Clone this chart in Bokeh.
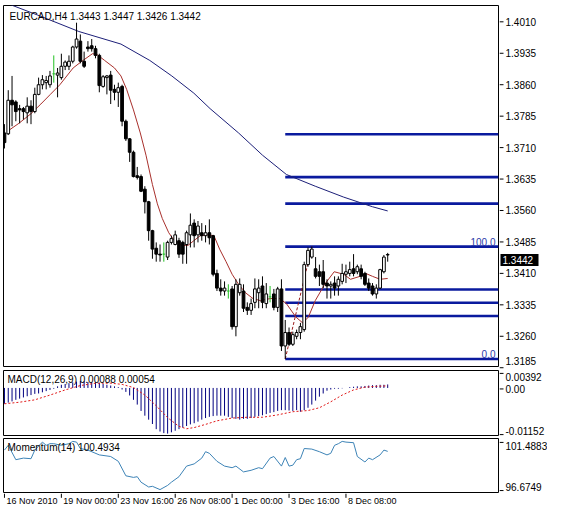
from bokeh.plotting import figure
from bokeh.layouts import column, row
from bokeh.models import Range1d, Label, ColumnDataSource
from bokeh.embed import file_html
from bokeh.resources import INLINE
from bokeh.core.properties import value

# ---------------- data ----------------
chart_title = "EURCAD,H4  1.3443 1.3447 1.3426 1.3442"

open_ = [
    1.3733, 1.3731, 1.3811, 1.3807, 1.3791, 1.3791, 1.3781, 1.3797, 1.3784, 1.3825,
    1.3848, 1.3853, 1.3848, 1.3874, 1.3871, 1.3865, 1.3892, 1.3892, 1.3904, 1.3938,
    1.3952, 1.3904, 1.3938, 1.3941, 1.3934, 1.3918, 1.3844, 1.3865, 1.3871, 1.3837,
    1.3830, 1.3844, 1.3761, 1.3719, 1.3687, 1.3631, 1.3629, 1.3599, 1.3569, 1.3500,
    1.3458, 1.3444, 1.3444, 1.3437, 1.3472, 1.3467, 1.3476, 1.3472, 1.3467, 1.3490,
    1.3518, 1.3490, 1.3495, 1.3488, 1.3495, 1.3488, 1.3398, 1.3363, 1.3356, 1.3356,
    1.3361, 1.3271, 1.3352, 1.3356, 1.3317, 1.3310, 1.3329, 1.3352, 1.3368, 1.3326,
    1.3342, 1.3349, 1.3317, 1.3361, 1.3225, 1.3257, 1.3229, 1.3248, 1.3257, 1.3264,
    1.3419, 1.3437, 1.3409, 1.3402, 1.3402, 1.3375, 1.3368, 1.3375, 1.3368, 1.3379,
    1.3396, 1.3398, 1.3409, 1.3402, 1.3409, 1.3398, 1.3375, 1.3368, 1.3349, 1.3363,
    1.3402, 1.3443]
high = [
    1.3754, 1.3835, 1.3869, 1.3811, 1.3800, 1.3795, 1.3818, 1.3811, 1.3841, 1.3865,
    1.3871, 1.3869, 1.3881, 1.3918, 1.3888, 1.3922, 1.3906, 1.3918, 1.3941, 1.3996,
    1.3968, 1.3927, 1.3952, 1.3957, 1.3941, 1.3922, 1.3871, 1.3871, 1.3881, 1.3848,
    1.3853, 1.3848, 1.3765, 1.3721, 1.3691, 1.3652, 1.3634, 1.3606, 1.3571, 1.3502,
    1.3472, 1.3467, 1.3472, 1.3476, 1.3488, 1.3500, 1.3483, 1.3476, 1.3500, 1.3541,
    1.3527, 1.3523, 1.3518, 1.3513, 1.3527, 1.3490, 1.3407, 1.3384, 1.3379, 1.3372,
    1.3368, 1.3384, 1.3386, 1.3372, 1.3329, 1.3338, 1.3386, 1.3384, 1.3391, 1.3375,
    1.3368, 1.3361, 1.3366, 1.3384, 1.3287, 1.3269, 1.3259, 1.3264, 1.3280, 1.3426,
    1.3460, 1.3462, 1.3437, 1.3419, 1.3430, 1.3384, 1.3379, 1.3391, 1.3391, 1.3421,
    1.3419, 1.3426, 1.3444, 1.3419, 1.3419, 1.3402, 1.3386, 1.3375, 1.3372, 1.3409,
    1.3442, 1.3447]
low = [
    1.3696, 1.3728, 1.3749, 1.3761, 1.3756, 1.3765, 1.3756, 1.3754, 1.3780, 1.3823,
    1.3837, 1.3837, 1.3841, 1.3853, 1.3818, 1.3860, 1.3883, 1.3883, 1.3899, 1.3934,
    1.3899, 1.3888, 1.3927, 1.3927, 1.3911, 1.3830, 1.3841, 1.3825, 1.3802, 1.3811,
    1.3795, 1.3749, 1.3714, 1.3664, 1.3627, 1.3622, 1.3592, 1.3541, 1.3476, 1.3433,
    1.3426, 1.3426, 1.3426, 1.3430, 1.3467, 1.3465, 1.3435, 1.3421, 1.3421, 1.3460,
    1.3460, 1.3472, 1.3476, 1.3472, 1.3467, 1.3391, 1.3356, 1.3345, 1.3345, 1.3338,
    1.3264, 1.3248, 1.3345, 1.3306, 1.3299, 1.3299, 1.3315, 1.3315, 1.3315, 1.3315,
    1.3329, 1.3310, 1.3306, 1.3213, 1.3194, 1.3225, 1.3225, 1.3241, 1.3241, 1.3259,
    1.3414, 1.3433, 1.3386, 1.3368, 1.3363, 1.3338, 1.3338, 1.3345, 1.3345, 1.3372,
    1.3375, 1.3391, 1.3391, 1.3396, 1.3384, 1.3368, 1.3356, 1.3345, 1.3338, 1.3361,
    1.3398, 1.3426]
close = [
    1.3710, 1.3811, 1.3800, 1.3784, 1.3788, 1.3784, 1.3797, 1.3784, 1.3825, 1.3848,
    1.3860, 1.3858, 1.3869, 1.3874, 1.3876, 1.3892, 1.3902, 1.3904, 1.3938, 1.3957,
    1.3904, 1.3892, 1.3934, 1.3934, 1.3918, 1.3846, 1.3867, 1.3869, 1.3835, 1.3830,
    1.3841, 1.3761, 1.3719, 1.3687, 1.3629, 1.3627, 1.3594, 1.3569, 1.3500, 1.3456,
    1.3444, 1.3442, 1.3444, 1.3472, 1.3481, 1.3490, 1.3444, 1.3444, 1.3495, 1.3513,
    1.3488, 1.3511, 1.3488, 1.3495, 1.3483, 1.3396, 1.3363, 1.3356, 1.3363, 1.3356,
    1.3271, 1.3372, 1.3372, 1.3315, 1.3310, 1.3326, 1.3361, 1.3363, 1.3329, 1.3349,
    1.3342, 1.3317, 1.3361, 1.3225, 1.3257, 1.3229, 1.3252, 1.3257, 1.3271, 1.3419,
    1.3453, 1.3456, 1.3391, 1.3391, 1.3372, 1.3368, 1.3372, 1.3363, 1.3384, 1.3398,
    1.3402, 1.3407, 1.3398, 1.3414, 1.3391, 1.3372, 1.3363, 1.3349, 1.3363, 1.3407,
    1.3437, 1.3442]

ma_fast_x = [0.8, 3.8, 7.0, 9.6, 12.1, 14.6, 18.1, 20.7, 23.2, 24.4, 26.4, 29.0, 30.7,
             32.2, 34.0, 35.8, 37.3, 39.0, 40.3, 41.6, 43.3, 44.8, 46.6, 48.4, 49.9,
             51.6, 53.7, 55.2, 56.7, 58.4, 60.0, 61.7, 63.5, 65.5, 67.5, 70.0, 72.5,
             74.3, 76.8, 78.6, 80.1, 81.9, 84.4, 86.9, 89.4, 91.2, 93.7, 95.2, 97.0,
             99.0, 101.0]
ma_fast_y = [1.3737, 1.3756, 1.3779, 1.3802, 1.3825, 1.3848, 1.3888, 1.3906, 1.3922,
             1.3920, 1.3906, 1.3888, 1.3869, 1.3837, 1.3788, 1.3733, 1.3680, 1.3610,
             1.3564, 1.3529, 1.3495, 1.3476, 1.3465, 1.3465, 1.3476, 1.3488, 1.3490,
             1.3488, 1.3456, 1.3426, 1.3396, 1.3372, 1.3352, 1.3338, 1.3333, 1.3338,
             1.3338, 1.3326, 1.3294, 1.3280, 1.3294, 1.3333, 1.3372, 1.3402, 1.3396,
             1.3384, 1.3391, 1.3398, 1.3391, 1.3384, 1.3386]
ma_slow_x = [0.0, 1.3, 8.8, 19.6, 30.7, 38.3, 44.1, 49.9, 54.2, 61.7, 68.0, 74.3,
             81.9, 89.4, 97.0, 101.0]
ma_slow_y = [1.4044, 1.4040, 1.4014, 1.3975, 1.3945, 1.3906, 1.3869, 1.3828, 1.3791,
             1.3733, 1.3680, 1.3634, 1.3606, 1.3580, 1.3557, 1.3547]

fib_start_bar = 74
fib_end_bar = 81
fib_low = 1.3194
fib_high = 1.3462
fib_levels = [0.0, 38.2, 50.0, 61.8, 100.0, 138.2, 161.8, 200.0]
fib_level_texts = {0.0: "0.0", 100.0: "100.0"}

price_ticks = [1.3185, 1.3260, 1.3335, 1.3410, 1.3485, 1.3560, 1.3635,
               1.3710, 1.3785, 1.3860, 1.3935, 1.4010]
last_price = 1.3442

macd_title = "MACD(12,26,9) 0.00088 0.00054"
macd_hist = [
    -0.0040, -0.0037, -0.0034, -0.0030, -0.0027, -0.0024, -0.0021, -0.0018, -0.0015, -0.0014,
    -0.0011, -0.0008, -0.0005, -0.0002, 0.0004, 0.0008, 0.0010, 0.0012, 0.0014, 0.0016,
    0.0018, 0.0017, 0.0015, 0.0014, 0.0014, 0.0013, 0.0010, 0.0008, 0.0006, 0.0004,
    0.0002, -0.0004, -0.0010, -0.0019, -0.0030, -0.0042, -0.0058, -0.0070, -0.0080, -0.0091,
    -0.0104, -0.0110, -0.0114, -0.01152, -0.0112, -0.0108, -0.0104, -0.0100, -0.0096, -0.0092,
    -0.0089, -0.0085, -0.0080, -0.0076, -0.0073, -0.0071, -0.0070, -0.0070, -0.0070, -0.0073,
    -0.0076, -0.0078, -0.0080, -0.0078, -0.0078, -0.0076, -0.0073, -0.0071, -0.0069, -0.0066,
    -0.0063, -0.0061, -0.0058, -0.0056, -0.0056, -0.0057, -0.0058, -0.0056, -0.0060, -0.0056,
    -0.0050, -0.0042, -0.0032, -0.0022, -0.0014, -0.0007, -0.0004, -0.0002, -0.0002, -0.0001,
    0.0000, 0.0002, 0.0003, 0.0004, 0.0004, 0.0005, 0.0006, 0.0007, 0.0007, 0.0008,
    0.0008, 0.00088]
macd_signal_x = [0, 4, 8, 12, 16, 20, 24, 28, 31, 34, 37, 40, 43, 46, 48, 50, 53, 56,
                 60, 64, 68, 72, 76, 80, 83, 86, 89, 92, 95, 98, 101]
macd_signal_y = [-0.0040, -0.0036, -0.0030, -0.0018, -0.0005, 0.0006, 0.0012, 0.0012,
                 0.0009, 0.0001, -0.0018, -0.0045, -0.0075, -0.0097, -0.0103, -0.0100,
                 -0.0092, -0.0083, -0.0076, -0.0074, -0.0074, -0.0068, -0.0060, -0.0057,
                 -0.0050, -0.0035, -0.0018, -0.0005, 0.0002, 0.0004, 0.00054]
macd_scale_values = [0.00392, 0.0, -0.01152]
macd_scale_texts = ["0.00392", "0.00", "-0.01152"]

mom_title = "Momentum(14) 100.4934"
mom_x = [0, 1, 3, 5, 7, 8, 10, 11, 12, 13, 15, 17, 18, 19, 20, 22, 25, 28, 30, 32, 34,
         35, 36, 38, 39, 41, 43, 44, 46, 48, 50, 52, 53, 54, 56, 58, 60, 61, 63, 65,
         67, 68, 70, 71, 73, 74, 75, 76, 77, 78, 79, 81, 83, 85, 86, 87, 88, 89, 90,
         92, 93, 95, 96, 97, 99, 100, 101]
mom_y = [100.62, 101.10, 99.66, 99.82, 99.76, 100.62, 101.42, 101.10, 101.26, 101.26,
         101.10, 101.26, 101.49, 101.42, 100.78, 100.62, 100.14, 99.98, 99.50, 98.05,
         97.89, 97.96, 97.41, 96.93, 97.00, 96.67, 97.09, 97.41, 97.96, 99.02, 99.24,
         99.82, 100.46, 100.30, 99.50, 99.02, 98.86, 99.02, 98.44, 98.60, 98.86, 98.76,
         99.82, 99.98, 99.02, 99.88, 99.02, 99.11, 99.66, 99.76, 100.78, 100.72, 100.46,
         100.14, 100.30, 101.10, 101.26, 101.49, 101.42, 101.36, 99.98, 99.43, 99.82,
         99.66, 100.14, 100.62, 100.4934]
mom_scale_values = [101.4883, 96.6749]
mom_scale_texts = ["101.4883", "96.6749"]

time_tick_bars = [0, 15, 30, 45, 60, 75, 90]
time_tick_labels = ["16 Nov 2010", "19 Nov 00:00", "23 Nov 16:00", "26 Nov 08:00",
                    "1 Dec 00:00", "3 Dec 16:00", "8 Dec 08:00"]

# ---------------- layout ----------------
FONT = "Liberation Sans"
AXW = 48
BL = 3
FW = 547 - BL - 1 - AXW
X0, X1 = -0.25, 130.2
xr = Range1d(X0, X1)


def base_fig(fw, fh, xrange, yrange, left, right, top, bottom, outline):
    p = figure(frame_width=fw, frame_height=fh, x_range=xrange, y_range=yrange,
               output_backend="svg", toolbar_location=None,
               x_axis_location=None, y_axis_location=None,
               min_border_left=left, min_border_right=right,
               min_border_top=top, min_border_bottom=bottom,
               background_fill_color="white", border_fill_color="white",
               outline_line_color=outline, outline_line_width=1)
    p.grid.visible = False
    return p


def scale_fig(fh, top, bottom, yr, values, texts, baselines, offsets=None):
    """Right-hand price scale drawn as its own narrow figure, aligned to the panel."""
    upp = (yr.end - yr.start) / fh
    ayr = Range1d(yr.start - bottom * upp, yr.end + top * upp)
    a = base_fig(AXW, fh + top + bottom, Range1d(0, AXW), ayr, 0, 0, 0, 0, None)
    n = len(values)
    a.segment(x0=[0] * n, y0=values, x1=[4] * n, y1=values, line_color="black", line_width=1)
    a.text(x=[6] * n, y=values, text=texts, text_baseline=baselines,
           y_offset=offsets if offsets is not None else [0] * n,
           text_font=value(FONT), text_font_size="10px", text_color="black",
           text_align="left")
    return a


# ---- main price panel ----
T1, H1, B1 = 5, 361, 3
yr1 = Range1d(1.3176, 1.4037)
p1 = base_fig(FW, H1, xr, yr1, BL, 1, T1, B1, "black")
bars = list(range(len(close)))
up = [i for i in bars if close[i] > open_[i]]
dn = [i for i in bars if close[i] < open_[i]]
dj = [i for i in bars if close[i] == open_[i]]


def sub(idx):
    return ColumnDataSource(dict(
        x=idx, o=[open_[i] for i in idx], h=[high[i] for i in idx],
        l=[low[i] for i in idx], c=[close[i] for i in idx],
        top=[max(open_[i], close[i]) for i in idx],
        bot=[min(open_[i], close[i]) for i in idx],
        xl=[i - 0.36 for i in idx], xr=[i + 0.36 for i in idx]))


s_up, s_dn, s_dj = sub(up), sub(dn), sub(dj)

fib_prices = [fib_low + (fib_high - fib_low) * lv / 100.0 for lv in fib_levels]
p1.segment(x0=[fib_start_bar] * len(fib_prices), y0=fib_prices,
           x1=[X1] * len(fib_prices), y1=fib_prices,
           line_color="#0a1a9e", line_width=2.6)
p1.line([fib_start_bar, fib_end_bar], [fib_low, fib_high], line_color="#9a1b1b",
        line_width=1, line_dash="3 2")
for lv, pr in zip(fib_levels, fib_prices):
    if lv in fib_level_texts:
        p1.add_layout(Label(x=X1, y=pr, x_offset=-3, y_offset=1, text=fib_level_texts[lv],
                            text_font=FONT, text_font_size="10px", text_color="#2a3aa8",
                            text_align="right", text_baseline="bottom"))

p1.line(ma_slow_x, ma_slow_y, line_color="#1c1f78", line_width=1)
p1.line(ma_fast_x, ma_fast_y, line_color="#a8302c", line_width=1)

for s in (s_up, s_dn):
    p1.segment(x0="x", y0="l", x1="x", y1="h", source=s, line_color="black", line_width=1)
p1.vbar(x="x", width=0.72, top="top", bottom="bot", source=s_up,
        fill_color="white", line_color="black", line_width=1)
p1.vbar(x="x", width=0.72, top="top", bottom="bot", source=s_dn,
        fill_color="black", line_color="black", line_width=1)
p1.segment(x0="x", y0="l", x1="x", y1="h", source=s_dj, line_color="#22c022", line_width=1)
p1.segment(x0="xl", y0="o", x1="xr", y1="c", source=s_dj, line_color="#22c022", line_width=1)

p1.add_layout(Label(x=X0, y=yr1.end, x_offset=6, y_offset=-5, text=chart_title,
                    text_font=FONT, text_font_size="10px", text_color="black",
                    text_baseline="top", text_align="left"))

price_offsets = [-7] + [0] * (len(price_ticks) - 1)
a1 = scale_fig(H1, T1, B1, yr1, price_ticks, [f"{t:.4f}" for t in price_ticks],
               ["middle"] * len(price_ticks), price_offsets)
a1.rect(x=[20], y=[last_price], width=[38], height=[12], height_units="screen",
        fill_color="black", line_color=None)
a1.text(x=[3], y=[last_price], text=[f"{last_price:.4f}"], text_font=value(FONT),
        text_font_size="10px", text_color="white", text_baseline="middle",
        text_align="left")

# ---- MACD panel ----
T2, H2, B2 = 1, 65, 2
yr2 = Range1d(-0.0120, 0.0044)
p2 = base_fig(FW, H2, xr, yr2, BL, 1, T2, B2, "black")
p2.segment(x0=bars, y0=[0.0] * len(bars), x1=bars, y1=macd_hist,
           line_color="#000080", line_width=1)
p2.line(macd_signal_x, macd_signal_y, line_color="#e01818", line_width=1, line_dash="2 2")
p2.add_layout(Label(x=X0, y=yr2.end, x_offset=4, y_offset=-3, text=macd_title,
                    text_font=FONT, text_font_size="10px", text_color="black",
                    text_baseline="top", text_align="left"))
a2 = scale_fig(H2, T2, B2, yr2, macd_scale_values, macd_scale_texts,
               ["top", "middle", "bottom"])

# ---- Momentum panel ----
T3, H3, B3 = 1, 54, 1
yr3 = Range1d(96.38, 101.78)
p3 = base_fig(FW, H3, xr, yr3, BL, 1, T3, B3, "black")
p3.line(mom_x, mom_y, line_color="#3d83b6", line_width=1)
p3.add_layout(Label(x=X0, y=yr3.end, x_offset=4, y_offset=-3, text=mom_title,
                    text_font=FONT, text_font_size="10px", text_color="black",
                    text_baseline="top", text_align="left"))
a3 = scale_fig(H3, T3, B3, yr3, mom_scale_values, mom_scale_texts, ["top", "bottom"])

# ---- time labels ----
p4 = base_fig(FW, 18, xr, Range1d(0, 1), BL, 1, 0, 0, None)
n = len(time_tick_bars)
p4.segment(x0=time_tick_bars, y0=[1.0] * n, x1=time_tick_bars, y1=[0.76] * n,
           line_color="black", line_width=1)
p4.text(x=time_tick_bars, y=[0.86] * n, text=time_tick_labels, x_offset=2,
        text_font=value(FONT), text_font_size="9px", text_color="black",
        text_baseline="top", text_align="left")

layout = column(row(p1, a1), row(p2, a2), row(p3, a3), p4)
open("out.html", "w").write(file_html(layout, INLINE))
